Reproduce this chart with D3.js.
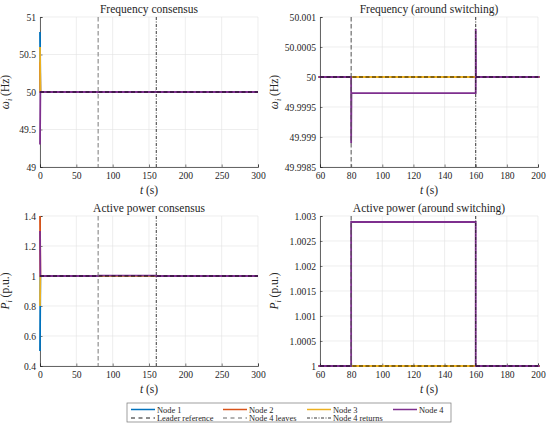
<!DOCTYPE html>
<html>
<head>
<meta charset="utf-8">
<script src="https://cdn.jsdelivr.net/npm/d3@7"></script>
</head>
<body style="margin:0">
<div id="chart"></div>
<script>
// Data
const nodeNames = ['Node 1', 'Node 2', 'Node 3', 'Node 4']
const nodeColors = ['#0072BD', '#D95319', '#EDB120', '#7E2F8E']

// frequency (Hz) over time (s)
const freqTime = [0, 0.5, 80, 80, 80.2, 160, 160, 160.2, 300]
const freqNode1 = [50.8, 50, 50, 50, 50, 50, 50, 50, 50]
const freqNode2 = [50.4, 50, 50, 50, 50, 50, 50, 50, 50]
const freqNode3 = [50.6, 50, 50, 50, 50, 50, 50, 50, 50]
const freqNode4 = [49.3, 50, 50, 49.9989, 49.99973, 49.99973, 50.0008, 50, 50]
const freqRef = 50

// active power (p.u.) over time (s)
const powTime = [0, 0.5, 80, 80, 160, 160, 300]
const powNode1 = [0.5, 1, 1, 1, 1, 1, 1]
const powNode2 = [1.4, 1, 1, 1, 1, 1, 1]
const powNode3 = [0.8, 1, 1, 1, 1, 1, 1]
const powNode4 = [1.3, 1, 1, 1.00288, 1.00288, 1, 1]
const powRef = 1

const tLeave = 80
const tReturn = 160

// tick labels
const xTicksFull = [0, 50, 100, 150, 200, 250, 300]
const xTicksZoom = [60, 80, 100, 120, 140, 160, 180, 200]
const yTicksFreqFull = [49, 49.5, 50, 50.5, 51]
const yTicksFreqZoom = [49.9985, 49.999, 49.9995, 50, 50.0005, 50.001]
const yTicksPowFull = [0.4, 0.6, 0.8, 1, 1.2, 1.4]
const yTicksPowZoom = [1, 1.0005, 1.001, 1.0015, 1.002, 1.0025, 1.003]

const freqSeries = [freqNode1, freqNode2, freqNode3, freqNode4]
const powSeries = [powNode1, powNode2, powNode3, powNode4]

const fontName = 'Liberation Serif'
const ink = '#262626'

// Dimensions
const width = 550, height = 430
const svg = d3.select('#chart').append('svg')
    .attr('width', width)
    .attr('height', height)

// every text element gets the serif font
function serifText(sel, size) {
    return sel.style('font-family', `'${fontName}'`).style('font-size', size + 'px').attr('fill', ink)
}

const panels = [
    { title: 'Frequency consensus', x: 40, y: 17, xDom: [0, 300], yDom: [49, 51], xt: xTicksFull, yt: yTicksFreqFull,
      time: freqTime, series: freqSeries, ref: freqRef, ylab: 'omega', vColor: '#7a7a7a' },
    { title: 'Frequency (around switching)', x: 320, y: 17, xDom: [60, 200], yDom: [49.9985, 50.001], xt: xTicksZoom, yt: yTicksFreqZoom,
      time: freqTime, series: freqSeries, ref: freqRef, ylab: 'omega', vColor: '#555' },
    { title: 'Active power consensus', x: 40, y: 216, xDom: [0, 300], yDom: [0.4, 1.4], xt: xTicksFull, yt: yTicksPowFull,
      time: powTime, series: powSeries, ref: powRef, ylab: 'P', vColor: '#7a7a7a' },
    { title: 'Active power (around switching)', x: 320, y: 216, xDom: [60, 200], yDom: [1, 1.003], xt: xTicksZoom, yt: yTicksPowZoom,
      time: powTime, series: powSeries, ref: powRef, ylab: 'P', vColor: '#555' }
]
const pw = 218, ph = 150

panels.forEach((p, i) => {
    const ctr = svg.append('g').attr('transform', `translate(${p.x},${p.y})`)
    const xScale = d3.scaleLinear().domain(p.xDom).range([0, pw])
    const yScale = d3.scaleLinear().domain(p.yDom).range([ph, 0])

    // grid
    ctr.append('g').selectAll('line').data(p.xt).join('line')
        .attr('x1', d => xScale(d)).attr('x2', d => xScale(d))
        .attr('y1', 0).attr('y2', ph)
        .attr('stroke', '#e3e3e3').attr('stroke-width', 0.6)
    ctr.append('g').selectAll('line').data(p.yt).join('line')
        .attr('y1', d => yScale(d)).attr('y2', d => yScale(d))
        .attr('x1', 0).attr('x2', pw)
        .attr('stroke', '#e3e3e3').attr('stroke-width', 0.6)

    // axes (drawn under the data lines)
    const xAxis = d3.axisBottom(xScale).tickValues(p.xt).tickSize(-2.5).tickPadding(5).tickFormat(d => d)
    const xg = ctr.append('g').attr('transform', `translate(0,${ph})`).call(xAxis)
    const yAxis = d3.axisLeft(yScale).tickValues(p.yt).tickSize(-2.5).tickPadding(4).tickFormat(d => d)
    const yg = ctr.append('g').call(yAxis)
    ;[xg, yg].forEach(g => {
        g.attr('font-family', fontName)
        g.select('.domain').attr('stroke', ink).attr('stroke-width', 0.7)
        g.selectAll('.tick line').attr('stroke', ink).attr('stroke-width', 0.6)
        serifText(g.selectAll('.tick text'), 9.6)
    })

    // clip
    const clipId = 'clip' + i
    ctr.append('clipPath').attr('id', clipId).append('rect')
        .attr('x', -1.5).attr('y', -2).attr('width', pw + 3).attr('height', ph + 4)
    const plot = ctr.append('g').attr('clip-path', `url(#${clipId})`)

    const line = d3.line()
        .x((d, k) => xScale(p.time[k]))
        .y(d => yScale(d))

    p.series.forEach((s, k) => {
        plot.append('path')
            .attr('d', line(s))
            .attr('fill', 'none')
            .attr('stroke', nodeColors[k])
            .attr('stroke-width', 1.8)
    })

    // leader reference
    plot.append('line')
        .attr('x1', 0).attr('x2', pw)
        .attr('y1', yScale(p.ref)).attr('y2', yScale(p.ref))
        .attr('stroke', '#000').attr('stroke-width', 0.9)
        .attr('stroke-dasharray', '4,2.5')

    // switching events
    plot.append('line')
        .attr('x1', xScale(tLeave)).attr('x2', xScale(tLeave))
        .attr('y1', 0).attr('y2', ph)
        .attr('stroke', p.vColor).attr('stroke-width', 1)
        .attr('stroke-dasharray', '4.5,2.5')
    plot.append('line')
        .attr('x1', xScale(tReturn)).attr('x2', xScale(tReturn))
        .attr('y1', 0).attr('y2', ph)
        .attr('stroke', '#222').attr('stroke-width', 0.9)
        .attr('stroke-dasharray', '3,1.5,1,1.5')

    // title
    serifText(ctr.append('text'), 11.5)
        .attr('x', pw / 2).attr('y', -4)
        .attr('text-anchor', 'middle')
        .text(p.title)

    // x label
    const xl = serifText(ctr.append('text'), 11.5)
        .attr('x', pw / 2).attr('y', ph + 27)
        .attr('text-anchor', 'middle')
    xl.append('tspan').style('font-style', 'italic').text('t')
    xl.append('tspan').text(' (s)')

    // y label
    const yl = serifText(ctr.append('text'), 11.5)
        .attr('transform', `translate(${i % 2 === 0 ? -31 : -42},${ph / 2}) rotate(-90)`)
        .attr('text-anchor', 'middle')
    if (p.ylab === 'omega') {
        yl.append('tspan').style('font-style', 'italic').text('ω')
        yl.append('tspan').style('font-style', 'italic').style('font-size', '8px').attr('dy', 2.5).text('i')
        yl.append('tspan').attr('dy', -2.5).text(' (Hz)')
    } else {
        yl.append('tspan').style('font-style', 'italic').text('P')
        yl.append('tspan').style('font-style', 'italic').style('font-size', '8px').attr('dy', 2.5).text('i')
        yl.append('tspan').attr('dy', -2.5).text(' (p.u.)')
    }
})

// Legend
const leg = svg.append('g')
leg.append('rect')
    .attr('x', 127).attr('y', 403).attr('width', 324).attr('height', 19)
    .attr('fill', '#fff').attr('stroke', '#777').attr('stroke-width', 0.7)

const legItems = [
    { label: nodeNames[0], color: nodeColors[0], x: 131, row: 0, dash: null, w: 1.5 },
    { label: nodeNames[1], color: nodeColors[1], x: 223, row: 0, dash: null, w: 1.5 },
    { label: nodeNames[2], color: nodeColors[2], x: 307, row: 0, dash: null, w: 1.5 },
    { label: nodeNames[3], color: nodeColors[3], x: 393, row: 0, dash: null, w: 1.5 },
    { label: 'Leader reference', color: '#000', x: 131, row: 1, dash: '4,3.5', w: 0.9 },
    { label: 'Node 4 leaves', color: '#555', x: 223, row: 1, dash: '4,3.5', w: 0.9 },
    { label: 'Node 4 returns', color: '#222', x: 307, row: 1, dash: '3,1.5,1,1.5', w: 0.9 }
]
const rowY = [409.5, 418]
legItems.forEach(it => {
    const y = rowY[it.row]
    leg.append('line')
        .attr('x1', it.x).attr('x2', it.x + 24)
        .attr('y1', y).attr('y2', y)
        .attr('stroke', it.color).attr('stroke-width', it.w)
        .attr('stroke-dasharray', it.dash)
    serifText(leg.append('text'), 8.4)
        .attr('x', it.x + 26).attr('y', y + 3)
        .text(it.label)
})
</script>
</body>
</html>
